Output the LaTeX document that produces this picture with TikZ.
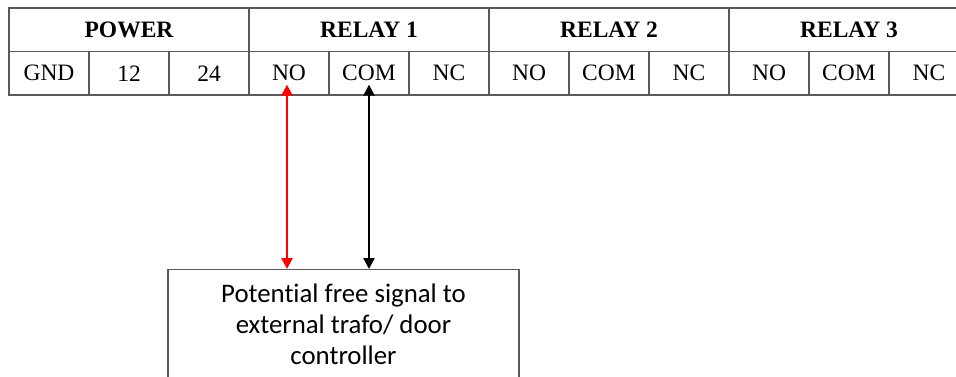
\documentclass[tikz,border=0pt]{standalone}
\usepackage{fontspec}
\setmainfont{Liberation Serif}
\newfontfamily\boxfont[Ligatures=NoCommon]{Carlito}
\usetikzlibrary{arrows.meta}
\definecolor{gridline}{HTML}{5A5A5A}
\tikzset{
  cell/.style={draw=gridline, line width=1.3pt, minimum width=80pt, minimum height=43.5pt, inner sep=0pt, anchor=center, font=\fontsize{23.5}{27}\selectfont},
  head/.style={cell, minimum width=240pt, font=\fontsize{23.5}{27}\selectfont\bfseries},
  arr/.style={line width=2.4pt, {Triangle[length=11pt,width=11pt]}-{Triangle[length=11pt,width=11pt]}},
  signalbox/.style={draw=gridline, line width=1.3pt, minimum width=351pt, minimum height=110pt, inner sep=0pt, align=center, anchor=north, font=\boxfont\fontsize{26.8}{31}\selectfont}
}
\begin{document}
\begin{tikzpicture}[x=1pt,y=-1pt]
\useasboundingbox (0,0) rectangle (956,377);
\clip (0,0) rectangle (956,377);
% header row
\node[head] (hpow) at (129,29.75) {POWER};
\node[head] (hr1) at (369,29.75) {RELAY 1};
\node[head] (hr2) at (609,29.75) {RELAY 2};
\node[head] (hr3) at (849,29.75) {RELAY 3};
% second row
\node[cell] (gnd) at (49,73.25) {GND};
\node[cell] (v12) at (129,73.25) {12};
\node[cell] (v24) at (209,73.25) {24};
\node[cell] (r1no) at (289,73.25) {NO};
\node[cell] (r1com) at (369,73.25) {COM};
\node[cell] (r1nc) at (449,73.25) {NC};
\node[cell] (r2no) at (529,73.25) {NO};
\node[cell] (r2com) at (609,73.25) {COM};
\node[cell] (r2nc) at (689,73.25) {NC};
\node[cell] (r3no) at (769,73.25) {NO};
\node[cell] (r3com) at (849,73.25) {COM};
\node[cell] (r3nc) at (929,73.25) {NC};
% signal box
\node[signalbox] (box) at (343.5,269) {Potential free signal to\\external trafo/ door\\controller};
% connectors
\draw[arr, red] ([xshift=-2pt,yshift=11pt]r1no.south) -- ([xshift=-2pt]r1no.south |- box.north);
\draw[arr, black] ([yshift=11pt]r1com.south) -- (r1com.south |- box.north);
\end{tikzpicture}
\end{document}
